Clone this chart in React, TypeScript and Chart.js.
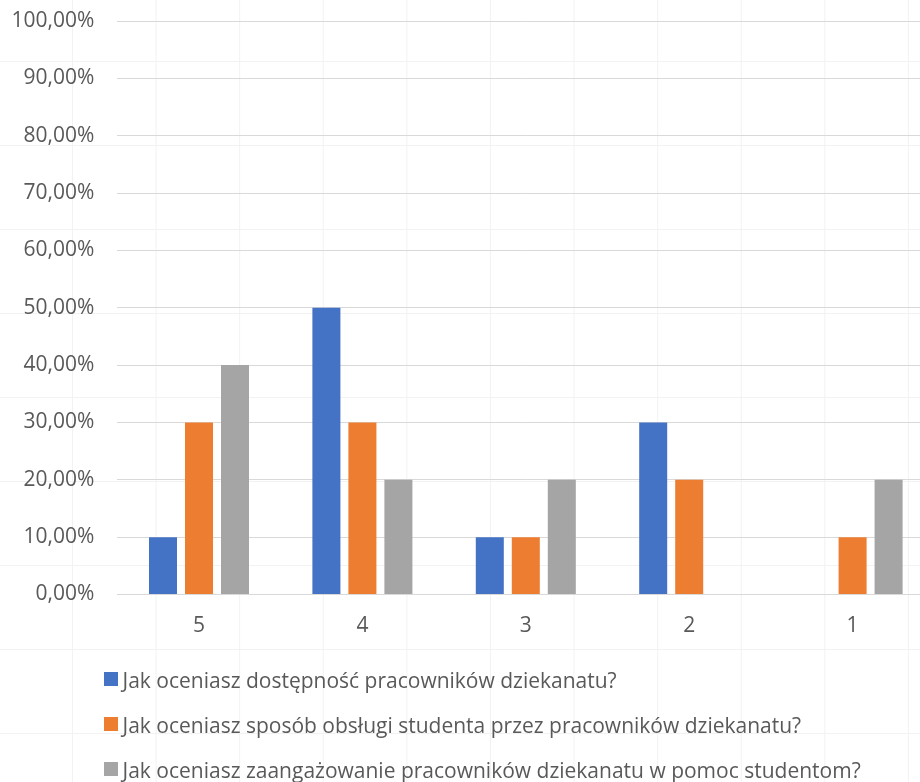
import React, { useEffect, useRef } from 'react';
import { Chart, registerables } from 'chart.js';

Chart.register(...registerables);

const categories = ['5', '4', '3', '2', '1'];
const availability = [10, 50, 10, 30, 0];
const service = [30, 30, 10, 20, 10];
const engagement = [40, 20, 20, 0, 20];
const seriesLabels = [
  'Jak oceniasz dostępność pracowników dziekanatu?',
  'Jak oceniasz sposób obsługi studenta przez pracowników dziekanatu?',
  'Jak oceniasz zaangażowanie pracowników dziekanatu w pomoc studentom?',
];
const seriesColors = ['#4472C4', '#ED7D31', '#A5A5A5'];
const yMin = 0;
const yMax = 100;
const yStep = 10;

const FONT = '"Open Sans", "Noto Sans", sans-serif';
const TEXT = '#595959';

export default function App() {
  const ref = useRef<HTMLCanvasElement>(null);

  useEffect(() => {
    if (!ref.current) return;
    const legendPlugin = {
      id: 'sheetLegend',
      afterDraw(chart: any) {
        const ctx = chart.ctx;
        ctx.save();
        ctx.font = `21px ${FONT}`;
        ctx.textBaseline = 'alphabetic';
        ctx.textAlign = 'left';
        chart.data.datasets.forEach((ds: any, i: number) => {
          const top = 672 + i * 45;
          ctx.fillStyle = ds.backgroundColor;
          ctx.fillRect(104, top, 14, 14);
          ctx.fillStyle = TEXT;
          ctx.fillText(ds.label, 122.5, top + 15.5);
        });
        ctx.restore();
      },
    };

    const chart = new Chart(ref.current, {
      type: 'bar',
      data: {
        labels: categories,
        datasets: [availability, service, engagement].map((d, i) => ({
          label: seriesLabels[i],
          data: d,
          backgroundColor: seriesColors[i],
          borderWidth: 0,
          categoryPercentage: 0.661,
          barPercentage: 0.778,
        })),
      },
      options: {
        responsive: false,
        animation: false,
        devicePixelRatio: 1,
        layout: { padding: { top: 21, right: 5.7, left: 0, bottom: 0 } },
        plugins: {
          legend: { display: false },
          tooltip: { enabled: false },
        },
        scales: {
          x: {
            grid: { display: false, drawTicks: false },
            border: { display: false },
            ticks: { color: TEXT, font: { size: 21, family: FONT }, padding: 19 },
            afterFit: (s: any) => {
              s.height = 187.5;
            },
          },
          y: {
            min: yMin,
            max: yMax,
            grid: { color: '#d9d9d9', lineWidth: 1, drawTicks: false },
            border: { display: false },
            ticks: {
              stepSize: yStep,
              color: TEXT,
              font: { size: 21, family: FONT },
              padding: 23,
              callback: (v: any) => Number(v).toFixed(2).replace('.', ',') + '%',
            },
            afterFit: (s: any) => {
              s.width = 117.3;
              s.paddingTop = 0;
              s.paddingBottom = 0;
            },
          },
        },
      },
      plugins: [legendPlugin],
    });
    return () => chart.destroy();
  }, []);

  return (
    <div
      style={{
        position: 'fixed',
        left: 0,
        top: 0,
        width: 920,
        height: 782,
        overflow: 'hidden',
        backgroundColor: '#ffffff',
        backgroundImage:
          'linear-gradient(to right, #f2f2f2 1px, transparent 1px), linear-gradient(to bottom, #f2f2f2 1px, transparent 1px)',
        backgroundSize: '83.6px 84px',
        backgroundPosition: '72px 61px',
      }}
    >
      <canvas ref={ref} width={940} height={782} style={{ display: 'block', width: 940, height: 782 }} />
    </div>
  );
}
